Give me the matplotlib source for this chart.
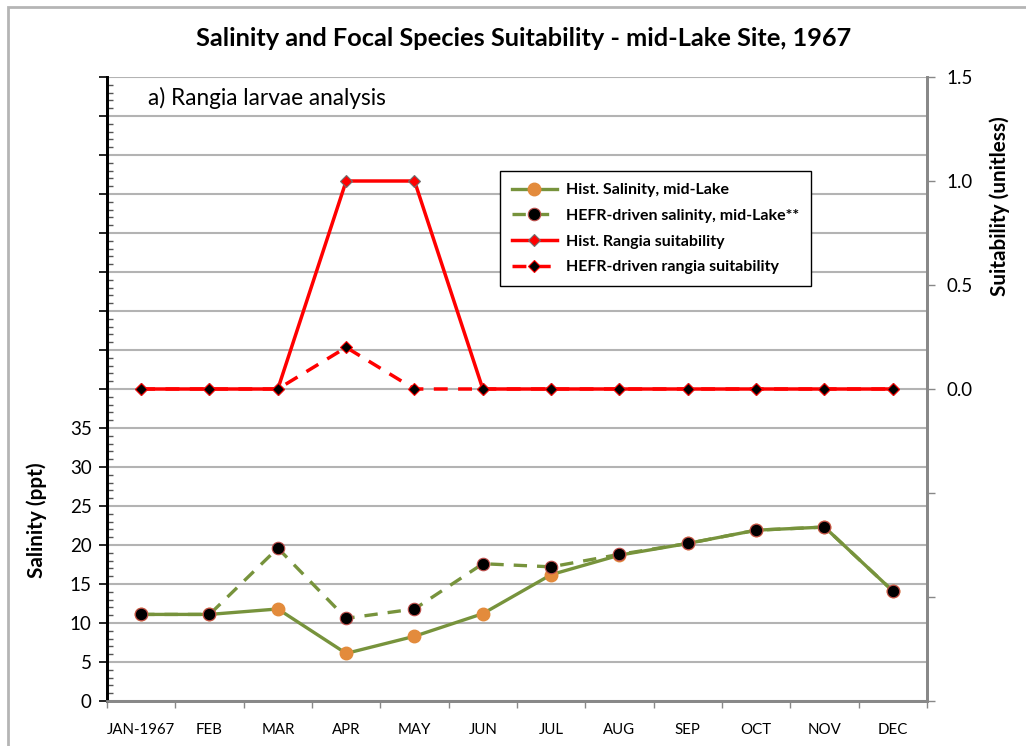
import matplotlib.pyplot as plt
from matplotlib.ticker import MultipleLocator, FuncFormatter, FixedLocator
from matplotlib.patches import Rectangle

months = ['JAN-1967', 'FEB', 'MAR', 'APR', 'MAY', 'JUN', 'JUL', 'AUG', 'SEP', 'OCT', 'NOV', 'DEC']
hist_sal = [11.1, 11.1, 11.8, 6.1, 8.3, 11.2, 16.2, 18.7, 20.2, 21.9, 22.3, 14.1]
hefr_sal = [11.1, 11.1, 19.6, 10.6, 11.8, 17.6, 17.2, 18.8, 20.2, 21.9, 22.3, 14.1]
hist_suit = [0, 0, 0, 1.0, 1.0, 0, 0, 0, 0, 0, 0, 0]
hefr_suit = [0, 0, 0, 0.2, 0, 0, 0, 0, 0, 0, 0, 0]

plt.rcParams['font.family'] = ['Lato', 'DejaVu Sans']

W, H = 1026, 746
fig = plt.figure(figsize=(W / 100, H / 100), dpi=100)
ax = fig.add_axes([107 / W, 1 - 701 / H, (927 - 107) / W, (701 - 77) / H])
ax2 = ax.twinx()

# chart frame (Excel style)
fig.patches.append(Rectangle((8 / W, -0.05), 1.2, 1 - 7 / H + 0.05, transform=fig.transFigure,
                             fill=False, edgecolor='#b5b5b5', lw=2))

x = list(range(len(months)))
green = '#77933C'
orange = '#E38B3C'
red = '#FF0000'

ax.plot(x, hist_sal, color=green, lw=2.4, marker='o', ms=9, mfc=orange, mec=orange, zorder=3,
        label='Hist. Salinity, mid-Lake')
ax.plot(x, hefr_sal, color=green, lw=2.4, ls=(0, (4, 3)), marker='o', ms=9, mfc='black',
        mec='#c0504d', mew=0.8, zorder=4, label='HEFR-driven salinity, mid-Lake**')

ax2.plot(x, hist_suit, color=red, lw=2.5, marker='D', ms=6, mfc=red, mec='#707070', mew=0.8,
         zorder=3, label='Hist. Rangia suitability')
ax2.plot(x, hefr_suit, color=red, lw=2.5, ls=(0, (4, 3)), marker='D', ms=6, mfc='black',
         mec=red, mew=0.8, zorder=4, label='HEFR-driven rangia suitability')

ax.set_xlim(-0.5, 11.5)
ax.set_ylim(0, 80)
ax2.set_ylim(-1.5, 1.5)

ax.yaxis.set_major_locator(MultipleLocator(5))
ax.yaxis.set_minor_locator(MultipleLocator(1))
ax.yaxis.set_major_formatter(FuncFormatter(lambda v, p: '%d' % v if v <= 35 else ''))
ax.grid(axis='y', color='#b3b3b3', lw=1.5)
ax.set_axisbelow(True)
ax.tick_params(axis='y', which='major', direction='out', length=6, width=1.2, colors='black',
               labelsize=13.5, pad=5)
ax.tick_params(axis='y', which='minor', direction='in', length=4, width=1, colors='#555555')

ax.xaxis.set_major_locator(FixedLocator(x))
ax.set_xticklabels(months)
ax.xaxis.set_minor_locator(FixedLocator([i - 0.5 for i in range(13)]))
ax.tick_params(axis='x', which='major', length=0, labelsize=10.8, pad=16)
ax.tick_params(axis='x', which='minor', direction='out', length=5, width=1, color='#888888')

ax2.yaxis.set_major_locator(MultipleLocator(0.5))
ax2.yaxis.set_major_formatter(FuncFormatter(lambda v, p: '%.1f' % v if v >= -0.01 else ''))
ax2.tick_params(axis='y', direction='out', length=6, width=1, color='#888888', labelsize=13.5,
                pad=8)

for a in (ax, ax2):
    a.spines['top'].set_visible(False)
    a.spines['bottom'].set_color('#888888')
    a.spines['bottom'].set_linewidth(2)
    a.spines['right'].set_color('#888888')
    a.spines['right'].set_linewidth(2)
    a.spines['left'].set_color('black')
    a.spines['left'].set_linewidth(2)

title = fig.text(524 / W, 1 - 38 / H, 'Salinity and Focal Species Suitability - mid-Lake Site, 1967',
                 ha='center', va='center', fontsize=15.5, fontweight='bold')
note = fig.text(148 / W, 1 - 98 / H, 'a) Rangia larvae analysis', ha='left', va='center',
                fontsize=14)
ylab = fig.text(37 / W, 1 - 520 / H, 'Salinity (ppt)', ha='center', va='center', rotation=90,
                fontsize=12, fontweight='bold')
ylab2 = fig.text(1000 / W, 1 - 206 / H, 'Suitability (unitless)', ha='center', va='center',
                 rotation=90, fontsize=12, fontweight='bold')

handles = ax.get_lines() + ax2.get_lines()
leg = ax2.legend(handles, [h.get_label() for h in handles], loc='upper left',
                 bbox_to_anchor=(500 / W, 1 - 171 / H), bbox_transform=fig.transFigure,
                 borderaxespad=0, fancybox=False, framealpha=1, edgecolor='black',
                 prop={'weight': 'bold', 'size': 11.5}, handlelength=2.8, labelspacing=0.72,
                 borderpad=0.75, handletextpad=0.6)
leg.get_frame().set_linewidth(1)

# size the free texts to the widths measured on the reference
r = fig.canvas.get_renderer()
for t, px in [(title, 654), (note, 239), (ylab, 115), (ylab2, 178)]:
    bb = t.get_window_extent(r)
    cur = max(bb.width, bb.height)
    t.set_fontsize(t.get_fontsize() * px / cur)

fig.savefig('out.png', dpi=100)
